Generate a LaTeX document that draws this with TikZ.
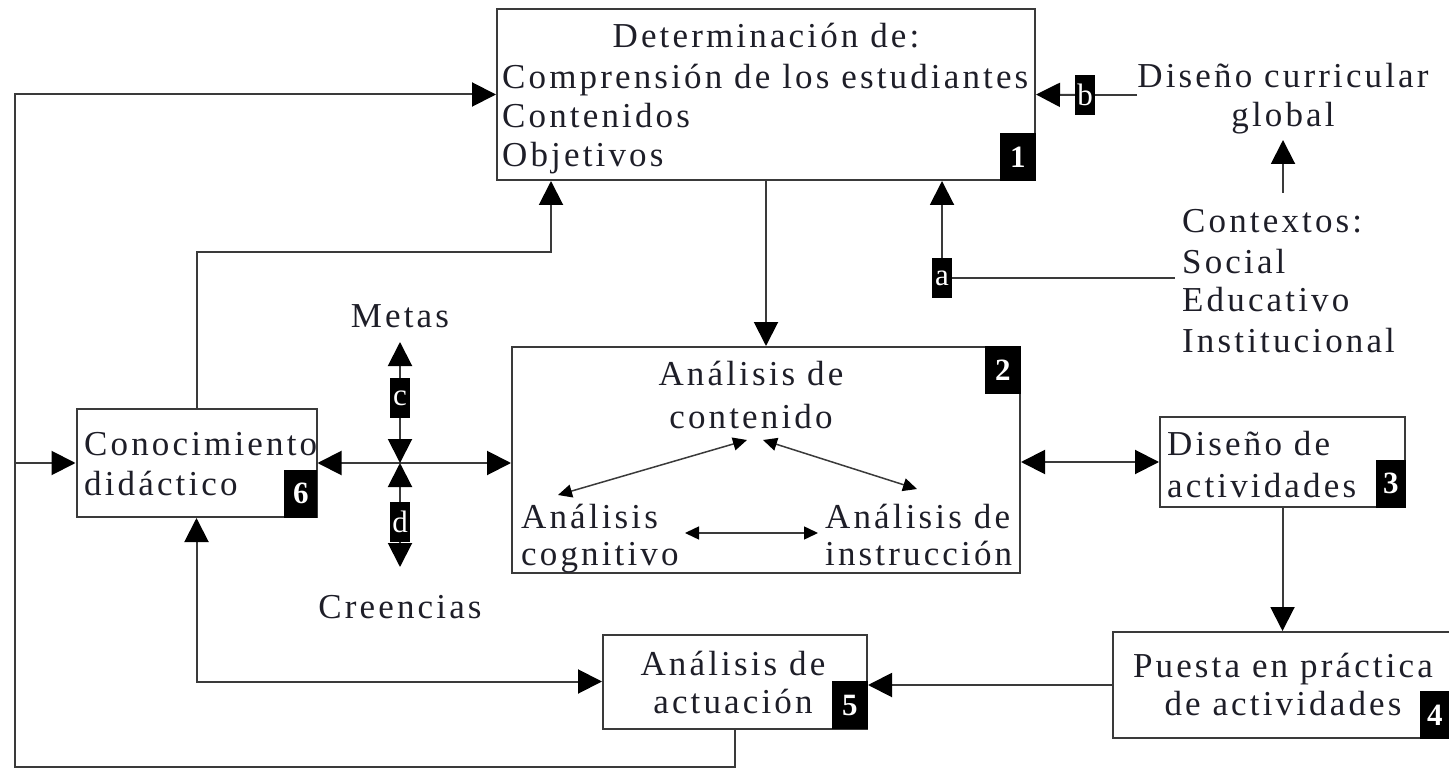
\documentclass[tikz,border=0pt]{standalone}
\usepackage{fontspec}
\setmainfont{Liberation Serif}[LetterSpace=9]
\usetikzlibrary{arrows.meta}
\pgfdeclarelayer{bg}
\pgfsetlayers{bg,main}
\definecolor{lnc}{HTML}{3A3A3A}
\definecolor{txc}{HTML}{1E1E28}
\begin{document}
\begin{tikzpicture}[x=1pt,y=-1pt,
  box/.style={draw=lnc,line width=2pt,inner sep=0pt},
  tx/.style={font=\fontsize{35}{39}\selectfont,text=txc,inner sep=0pt},
  num/.style={fill=black,text=white,inner sep=0pt,minimum width=36pt,minimum height=48pt,font=\bfseries\fontsize{31}{31}\selectfont},
  lab/.style={fill=black,text=white,inner sep=0pt,minimum width=20pt,minimum height=40pt,font=\fontsize{31}{31}\selectfont},
  conn/.style={draw=lnc,line width=2pt},
  tip/.style={-{Triangle[length=24pt,width=24pt,color=black]}},
  dtip/.style={{Triangle[length=24pt,width=24pt,color=black]}-{Triangle[length=24pt,width=24pt,color=black]}},
  stip/.style={draw=lnc,line width=1.5pt,{Triangle[length=14pt,width=13pt,color=black]}-{Triangle[length=14pt,width=13pt,color=black]}}
]
\useasboundingbox (0,0) rectangle (1449,770);

% boxes
\node[box,minimum width=538pt,minimum height=171pt] (b1) at (766,94.5) {};
\node[box,minimum width=508pt,minimum height=226pt] (b2) at (766,460) {};
\node[box,minimum width=245pt,minimum height=90pt] (b3) at (1282.5,462) {};
\node[box,minimum width=342pt,minimum height=106pt] (b4) at (1284,685) {};
\node[box,minimum width=264pt,minimum height=94pt] (b5) at (735,681.5) {};
\node[box,minimum width=240pt,minimum height=108pt] (b6) at (196.5,463) {};

% number badges
\node[num,anchor=south east] (n1) at (b1.south east) {1};
\node[num,anchor=north east] (n2) at (b2.north east) {2};
\node[num,anchor=south east,minimum width=30pt] (n3) at (b3.south east) {3};
\node[num,anchor=south east,minimum width=30pt] (n4) at ([xshift=-6pt]b4.south east) {4};
\node[num,anchor=south east] (n5) at (b5.south east) {5};
\node[num,anchor=south east,minimum width=33pt] (n6) at (b6.south east) {6};

% letter badges
\node[lab] (la) at (942,278) {a};
\node[lab] (lb) at (1085,95) {b};
\node[lab] (lblc) at (400,398) {c};
\node[lab] (lbld) at (400,522) {d};

% texts
\node[tx,anchor=base] (t1h) at (766,48) {Determinación de:};
\node[tx,anchor=base west] (t1a) at (502,89) {Comprensión de los estudiantes};
\node[tx,anchor=base west] (t1b) at (502,128) {Contenidos};
\node[tx,anchor=base west] (t1c) at (502,167) {Objetivos};

\node[tx,anchor=base] (t2a) at (751,385) {Análisis de};
\node[tx,anchor=base] (t2b) at (751,428) {contenido};
\node[tx,anchor=base west] (t2c) at (521,528) {Análisis};
\node[tx,anchor=base west] (t2d) at (521,565) {cognitivo};
\node[tx,anchor=base west] (t2e) at (825,528) {Análisis de};
\node[tx,anchor=base west] (t2f) at (825,565) {instrucción};

\node[tx,anchor=base west] (t3a) at (1167,455) {Diseño de};
\node[tx,anchor=base west] (t3b) at (1167,497) {actividades};

\node[tx,anchor=base] (t4a) at (1283,677) {Puesta en práctica};
\node[tx,anchor=base] (t4b) at (1283,715) {de actividades};

\node[tx,anchor=base] (t5a) at (733,675) {Análisis de};
\node[tx,anchor=base] (t5b) at (733,713) {actuación};

\node[tx,anchor=base west] (t6a) at (84,455) {Conocimiento};
\node[tx,anchor=base west] (t6b) at (84,495) {didáctico};

\node[tx,anchor=base] (metas) at (400,327) {Metas};
\node[tx,anchor=base] (cre) at (400,618) {Creencias};

\node[tx,anchor=base] (dc) at (1283,88) {Diseño curricular};
\node[tx,anchor=base] (glob) at (1283,127) {global};

\node[tx,anchor=base west] (ctx) at (1182,233) {Contextos:};
\node[tx,anchor=base west] (soc) at (1182,273) {Social};
\node[tx,anchor=base west] (edu) at (1182,312) {Educativo};
\node[tx,anchor=base west] (ins) at (1182,352) {Institucional};

% coordinates
\coordinate (bl) at (15,767);
\coordinate (tl) at (15,94.5);
\coordinate (jl) at (15,463);
\coordinate (k1) at (551,252);
\coordinate (X) at (400,463);
\coordinate (mt) at (400,342);
\coordinate (ct) at (400,567);
\coordinate (cx) at (1283,193);
\coordinate (gt) at (1283,140);
\coordinate (p1) at (747,440);
\coordinate (p2) at (558,495);
\coordinate (p3) at (763,440);
\coordinate (p4) at (917,489);
\coordinate (q1) at (685,533);
\coordinate (q2) at (818,533);

\begin{pgfonlayer}{bg}
\draw[conn,tip] (b5.south) |- (bl) -- (tl) -- (b1.west);
\draw[conn,tip] (jl) -- (b6.west);
\draw[conn,tip] (b6.north) |- (k1) -- (k1 |- b1.south);
\draw[conn,tip] (b1.south) -- (b2.north);
\draw[conn,tip] (la.north) -- (la.north |- b1.south);
\draw[conn,shorten >=7pt] (la.east) -- (la.east -| soc.west);
\draw[conn] (lb -| dc.west) -- (lb.east);
\draw[conn,tip] (lb.west) -- (b1.east);
\draw[conn,tip] (cx) -- (gt);
\draw[conn,dtip] (b6.east) -- (b6.east -| b2.west);
\draw[conn,dtip] (X) -- (mt);
\draw[conn,dtip] (X) -- (ct);
\draw[conn,dtip] (b3.west -| b2.east) -- (b3.west);
\draw[conn,tip] (b3.south) -- (b3.south |- b4.north);
\draw[conn,tip] (b4.west) -- (b4.west -| b5.east);
\draw[conn,dtip] (b6.south) |- (b5.west);
\draw[stip] (p1) -- (p2);
\draw[stip] (p3) -- (p4);
\draw[stip] (q1) -- (q2);
\end{pgfonlayer}
\end{tikzpicture}
\end{document}
